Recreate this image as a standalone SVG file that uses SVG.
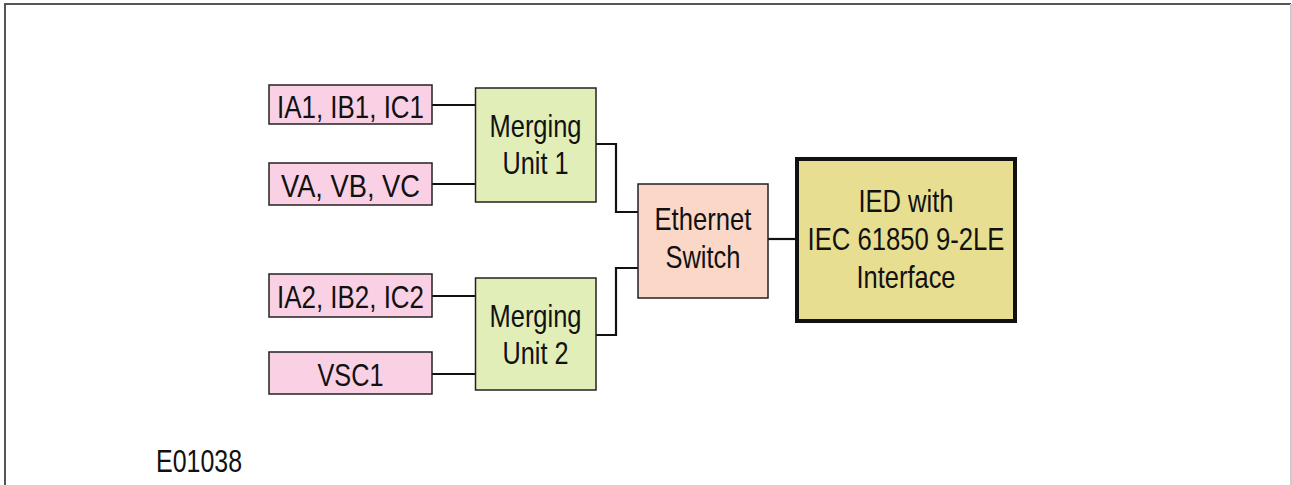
<svg xmlns="http://www.w3.org/2000/svg" width="1292" height="485" viewBox="0 0 1292 485">
<style>
.t{font-family:"Liberation Sans",Arial,sans-serif;font-size:32px;fill:#111;text-anchor:middle}
.in{fill:#FAD0E4;stroke:#222;stroke-width:1.5}
.mu{fill:#E2EEB7;stroke:#222;stroke-width:1.5}
.sw{fill:#FBD7C8;stroke:#222;stroke-width:1.5}
.ied{fill:#E8DE92;stroke:#111;stroke-width:4}
.c{fill:none;stroke:#111;stroke-width:2.2}
</style>
<rect width="1292" height="485" fill="#fff"/>
<g id="frame">
<line x1="4" y1="4" x2="1291" y2="4" stroke="#555" stroke-width="2"/>
<line x1="5" y1="4" x2="5" y2="485" stroke="#555" stroke-width="2"/>
<line x1="1291" y1="4" x2="1291" y2="485" stroke="#ccc" stroke-width="2"/>
</g>
<g id="connectors">
<line class="c" x1="432" y1="105" x2="476" y2="105"/>
<line class="c" x1="432" y1="184" x2="476" y2="184"/>
<polyline class="c" points="596,144 616,144 616,212 638,212"/>
<line class="c" x1="432" y1="296" x2="476" y2="296"/>
<line class="c" x1="432" y1="374" x2="476" y2="374"/>
<polyline class="c" points="596,335 616,335 616,268 638,268"/>
<line class="c" x1="768" y1="239" x2="797" y2="239"/>
</g>
<g id="ia1">
<rect class="in" x="269" y="85" width="163" height="39"/>
<text class="t" x="350.5" y="118" textLength="147" lengthAdjust="spacingAndGlyphs">IA1, IB1, IC1</text>
</g>
<g id="va">
<rect class="in" x="269" y="163" width="163" height="42"/>
<text class="t" x="350.5" y="197" textLength="139" lengthAdjust="spacingAndGlyphs">VA, VB, VC</text>
</g>
<g id="ia2">
<rect class="in" x="269" y="274" width="163" height="43"/>
<text class="t" x="350.5" y="308" textLength="147" lengthAdjust="spacingAndGlyphs">IA2, IB2, IC2</text>
</g>
<g id="vsc1">
<rect class="in" x="269" y="352" width="163" height="42"/>
<text class="t" x="350.5" y="386" textLength="66" lengthAdjust="spacingAndGlyphs">VSC1</text>
</g>
<g id="mu1">
<rect class="mu" x="475.5" y="88" width="120.5" height="114"/>
<text class="t" x="535.5" y="137" textLength="92" lengthAdjust="spacingAndGlyphs">Merging</text>
<text class="t" x="535.5" y="174" textLength="66" lengthAdjust="spacingAndGlyphs">Unit 1</text>
</g>
<g id="mu2">
<rect class="mu" x="475.5" y="278" width="120.5" height="112"/>
<text class="t" x="535.5" y="327" textLength="92" lengthAdjust="spacingAndGlyphs">Merging</text>
<text class="t" x="535.5" y="364" textLength="66" lengthAdjust="spacingAndGlyphs">Unit 2</text>
</g>
<g id="switch">
<rect class="sw" x="638" y="184" width="130" height="114"/>
<text class="t" x="703" y="230" textLength="97" lengthAdjust="spacingAndGlyphs">Ethernet</text>
<text class="t" x="703" y="268" textLength="75" lengthAdjust="spacingAndGlyphs">Switch</text>
</g>
<g id="ied">
<rect class="ied" x="797" y="159" width="218" height="162"/>
<text class="t" x="906" y="212" textLength="95" lengthAdjust="spacingAndGlyphs">IED with</text>
<text class="t" x="906" y="250" textLength="197" lengthAdjust="spacingAndGlyphs">IEC 61850 9-2LE</text>
<text class="t" x="906" y="288" textLength="99" lengthAdjust="spacingAndGlyphs">Interface</text>
</g>
<g id="label">
<text class="t" x="156" y="472" style="text-anchor:start" textLength="86" lengthAdjust="spacingAndGlyphs">E01038</text>
</g>
</svg>
